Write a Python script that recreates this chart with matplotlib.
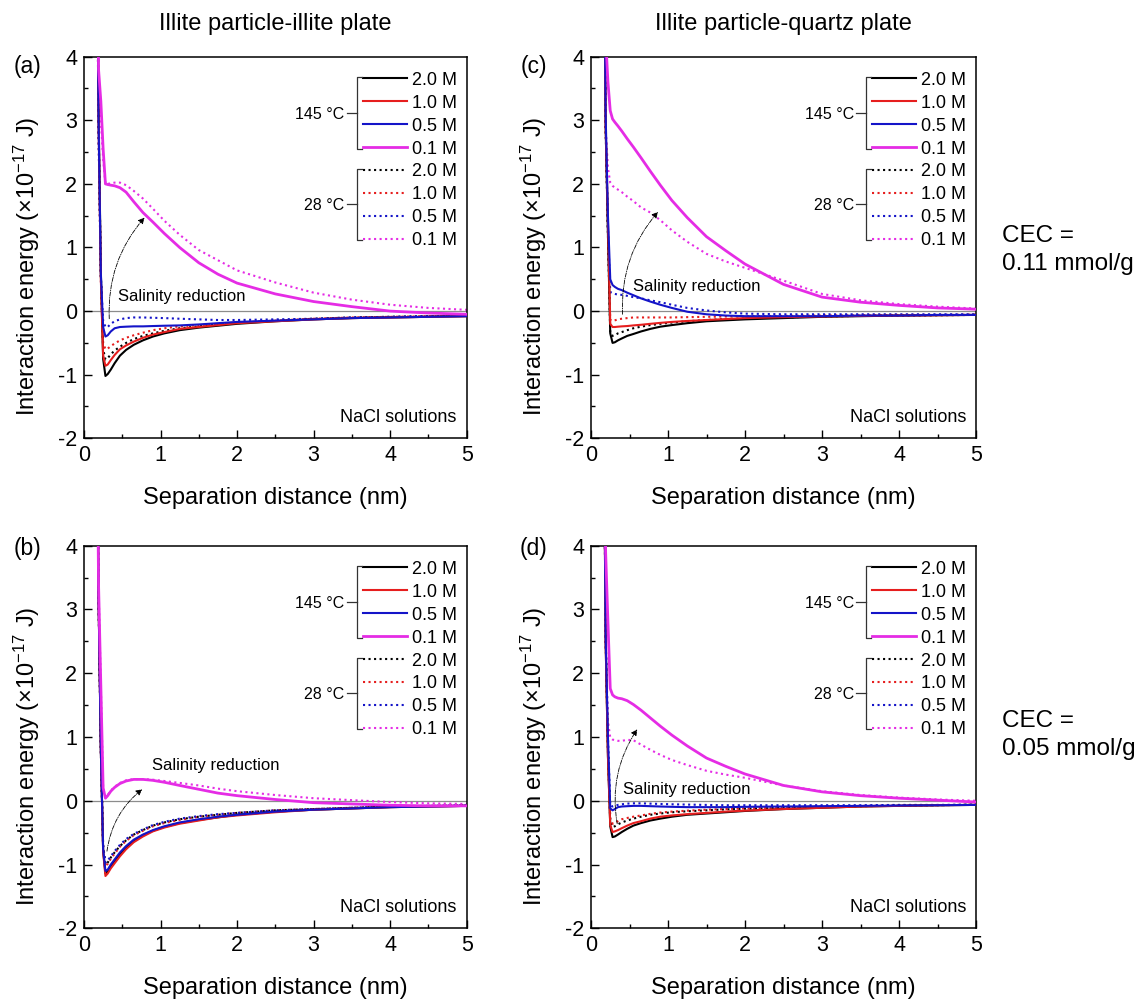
import matplotlib
matplotlib.use('Agg')
import matplotlib.pyplot as plt
from matplotlib.lines import Line2D
from matplotlib.ticker import MultipleLocator

plt.rcParams['font.family'] = ['Liberation Sans', 'DejaVu Sans']
plt.rcParams['mathtext.fontset'] = 'custom'
plt.rcParams['mathtext.rm'] = 'Liberation Sans'
plt.rcParams['mathtext.it'] = 'Liberation Sans:italic'
plt.rcParams['axes.unicode_minus'] = False

# separation distance (nm), shared by every curve
sep = [0.15, 0.19, 0.22, 0.25, 0.28, 0.31, 0.35, 0.4, 0.47, 0.55, 0.65, 0.77,
       0.9, 1.05, 1.25, 1.5, 1.75, 2.0, 2.5, 3.0, 3.5, 4.0, 4.5, 5.0]
conc = ['2.0 M', '1.0 M', '0.5 M', '0.1 M']

# (a) illite particle - illite plate, CEC 0.11
a_145 = [
    [9.0, 3.2, 0.6, -0.75, -1.02, -0.99, -0.92, -0.82, -0.70, -0.61, -0.53, -0.46, -0.40, -0.35, -0.30, -0.26, -0.23, -0.20, -0.16, -0.13, -0.11, -0.10, -0.09, -0.08],
    [9.0, 3.0, 0.5, -0.70, -0.86, -0.84, -0.77, -0.69, -0.60, -0.54, -0.48, -0.42, -0.37, -0.33, -0.28, -0.25, -0.22, -0.19, -0.16, -0.13, -0.11, -0.10, -0.09, -0.08],
    [9.0, 3.0, 0.6, -0.25, -0.40, -0.38, -0.32, -0.27, -0.25, -0.245, -0.24, -0.24, -0.235, -0.23, -0.225, -0.21, -0.19, -0.17, -0.15, -0.13, -0.11, -0.10, -0.09, -0.08],
    [9.0, 3.8, 3.3, 2.55, 2.0, 1.99, 1.98, 1.97, 1.94, 1.87, 1.72, 1.55, 1.40, 1.22, 1.0, 0.76, 0.58, 0.44, 0.27, 0.15, 0.07, 0.0, -0.03, -0.05],
]
a_28 = [
    [9.0, 3.0, 0.6, -0.60, -0.76, -0.74, -0.68, -0.62, -0.56, -0.50, -0.44, -0.39, -0.35, -0.31, -0.27, -0.24, -0.21, -0.19, -0.15, -0.12, -0.10, -0.09, -0.08, -0.07],
    [9.0, 2.8, 0.5, -0.50, -0.60, -0.59, -0.55, -0.51, -0.46, -0.42, -0.38, -0.34, -0.30, -0.27, -0.24, -0.22, -0.20, -0.18, -0.15, -0.12, -0.10, -0.09, -0.08, -0.07],
    [9.0, 2.8, 0.5, -0.15, -0.25, -0.25, -0.20, -0.16, -0.13, -0.11, -0.10, -0.10, -0.105, -0.11, -0.12, -0.13, -0.14, -0.14, -0.13, -0.12, -0.10, -0.09, -0.08, -0.07],
    [9.0, 3.6, 3.0, 2.4, 2.0, 2.0, 2.01, 2.02, 2.02, 1.98, 1.89, 1.77, 1.61, 1.42, 1.2, 0.96, 0.80, 0.64, 0.45, 0.29, 0.18, 0.10, 0.05, 0.02],
]

# (b) illite particle - illite plate, CEC 0.05
b_145 = [
    [9.0, 3.2, 0.8, -0.78, -1.14, -1.11, -1.03, -0.95, -0.84, -0.74, -0.63, -0.54, -0.47, -0.41, -0.35, -0.30, -0.26, -0.22, -0.17, -0.14, -0.12, -0.10, -0.09, -0.08],
    [9.0, 3.2, 0.8, -0.80, -1.18, -1.14, -1.06, -0.98, -0.87, -0.76, -0.65, -0.56, -0.48, -0.42, -0.36, -0.31, -0.26, -0.23, -0.18, -0.14, -0.12, -0.10, -0.09, -0.08],
    [9.0, 3.2, 0.8, -0.76, -1.10, -1.08, -1.00, -0.92, -0.81, -0.71, -0.61, -0.53, -0.46, -0.40, -0.34, -0.29, -0.25, -0.22, -0.17, -0.14, -0.12, -0.10, -0.09, -0.08],
    [9.0, 3.4, 1.8, 0.2, 0.04, 0.08, 0.15, 0.21, 0.27, 0.31, 0.335, 0.335, 0.32, 0.29, 0.24, 0.18, 0.12, 0.08, 0.02, -0.03, -0.05, -0.07, -0.08, -0.08],
]
b_28 = [
    [9.0, 3.2, 0.8, -0.72, -1.00, -0.97, -0.89, -0.81, -0.71, -0.62, -0.53, -0.46, -0.39, -0.34, -0.29, -0.25, -0.22, -0.19, -0.15, -0.13, -0.11, -0.09, -0.08, -0.07],
    [9.0, 3.2, 0.8, -0.74, -1.02, -0.99, -0.91, -0.83, -0.72, -0.63, -0.54, -0.47, -0.40, -0.35, -0.30, -0.25, -0.22, -0.19, -0.15, -0.13, -0.11, -0.09, -0.08, -0.07],
    [9.0, 3.2, 0.8, -0.70, -0.97, -0.94, -0.87, -0.79, -0.69, -0.60, -0.52, -0.45, -0.38, -0.33, -0.28, -0.24, -0.21, -0.19, -0.15, -0.13, -0.11, -0.09, -0.08, -0.07],
    [9.0, 3.4, 1.8, 0.2, 0.06, 0.09, 0.16, 0.22, 0.28, 0.32, 0.34, 0.34, 0.33, 0.31, 0.28, 0.24, 0.19, 0.15, 0.09, 0.04, 0.01, -0.02, -0.04, -0.05],
]

# (c) illite particle - quartz plate, CEC 0.11
c_145 = [
    [9.0, 2.9, 1.2, -0.35, -0.50, -0.49, -0.46, -0.43, -0.39, -0.36, -0.32, -0.28, -0.245, -0.22, -0.19, -0.16, -0.145, -0.13, -0.11, -0.09, -0.08, -0.07, -0.065, -0.06],
    [9.0, 2.95, 1.4, -0.20, -0.25, -0.25, -0.245, -0.24, -0.235, -0.225, -0.215, -0.20, -0.185, -0.17, -0.155, -0.14, -0.125, -0.11, -0.095, -0.085, -0.075, -0.07, -0.065, -0.06],
    [9.0, 3.1, 1.5, 0.50, 0.41, 0.38, 0.35, 0.33, 0.29, 0.25, 0.20, 0.15, 0.10, 0.05, -0.01, -0.05, -0.07, -0.08, -0.08, -0.08, -0.07, -0.07, -0.06, -0.06],
    [9.0, 4.3, 3.6, 3.15, 3.02, 2.97, 2.91, 2.83, 2.71, 2.58, 2.41, 2.2, 1.98, 1.74, 1.47, 1.17, 0.95, 0.74, 0.42, 0.22, 0.14, 0.09, 0.05, 0.03],
]
c_28 = [
    [9.0, 2.9, 1.2, -0.35, -0.39, -0.38, -0.35, -0.33, -0.30, -0.27, -0.245, -0.22, -0.20, -0.18, -0.16, -0.14, -0.125, -0.115, -0.10, -0.085, -0.075, -0.07, -0.065, -0.06],
    [9.0, 2.9, 1.3, -0.14, -0.155, -0.145, -0.13, -0.12, -0.11, -0.10, -0.10, -0.10, -0.10, -0.10, -0.095, -0.09, -0.085, -0.08, -0.075, -0.07, -0.065, -0.06, -0.06, -0.055],
    [9.0, 3.0, 1.3, 0.30, 0.28, 0.27, 0.26, 0.255, 0.24, 0.22, 0.20, 0.17, 0.14, 0.10, 0.05, 0.01, -0.02, -0.04, -0.05, -0.05, -0.05, -0.05, -0.05, -0.05],
    [9.0, 2.9, 2.25, 2.02, 1.97, 1.94, 1.91, 1.87, 1.80, 1.73, 1.63, 1.55, 1.43, 1.27, 1.09, 0.90, 0.78, 0.68, 0.48, 0.27, 0.17, 0.11, 0.07, 0.04],
]

# (d) illite particle - quartz plate, CEC 0.05
d_145 = [
    [9.0, 2.5, 0.7, -0.40, -0.57, -0.56, -0.53, -0.49, -0.44, -0.39, -0.35, -0.31, -0.28, -0.25, -0.22, -0.20, -0.18, -0.16, -0.13, -0.11, -0.09, -0.08, -0.07, -0.065],
    [9.0, 2.5, 0.7, -0.38, -0.49, -0.48, -0.46, -0.43, -0.39, -0.35, -0.32, -0.28, -0.25, -0.23, -0.21, -0.19, -0.17, -0.155, -0.13, -0.11, -0.09, -0.08, -0.07, -0.065],
    [9.0, 2.6, 1.0, -0.12, -0.15, -0.13, -0.10, -0.09, -0.085, -0.08, -0.08, -0.085, -0.09, -0.095, -0.10, -0.10, -0.10, -0.095, -0.09, -0.085, -0.08, -0.075, -0.07, -0.065],
    [9.0, 3.9, 2.8, 1.76, 1.66, 1.63, 1.61, 1.60, 1.57, 1.51, 1.42, 1.30, 1.17, 1.03, 0.86, 0.67, 0.54, 0.42, 0.24, 0.14, 0.08, 0.04, 0.01, -0.02],
]
d_28 = [
    [9.0, 2.6, 0.8, -0.32, -0.41, -0.40, -0.37, -0.34, -0.31, -0.28, -0.25, -0.22, -0.20, -0.18, -0.165, -0.15, -0.135, -0.125, -0.11, -0.095, -0.085, -0.075, -0.07, -0.06],
    [9.0, 2.6, 0.8, -0.28, -0.36, -0.35, -0.32, -0.29, -0.27, -0.25, -0.23, -0.205, -0.185, -0.17, -0.155, -0.14, -0.13, -0.12, -0.105, -0.09, -0.08, -0.075, -0.07, -0.06],
    [9.0, 2.6, 1.0, -0.07, -0.09, -0.08, -0.065, -0.055, -0.045, -0.04, -0.04, -0.045, -0.05, -0.055, -0.06, -0.065, -0.07, -0.07, -0.07, -0.07, -0.07, -0.065, -0.065, -0.06],
    [9.0, 2.5, 1.25, 0.99, 0.96, 0.95, 0.94, 0.94, 0.955, 0.95, 0.88, 0.80, 0.72, 0.64, 0.56, 0.47, 0.41, 0.36, 0.24, 0.15, 0.09, 0.05, 0.02, 0.0],
]

colors = ['black', '#e61e1e', '#1414c8', '#e52ce5']
widths = [1.5, 1.5, 1.5, 2.0]

W, H = 1139, 999
fig = plt.figure(figsize=(W / 100, H / 100), dpi=100)


def fx(px):
    return px / W


def fy(py):
    return 1 - py / H


# pixel boxes: left, top, right, bottom
boxes = {'a': (84, 56.7, 466.7, 438.3), 'c': (591, 56.7, 976, 438.3),
         'b': (84, 545.7, 466.7, 928.3), 'd': (591, 545.7, 976, 928.3)}
hot = {'a': a_145, 'b': b_145, 'c': c_145, 'd': d_145}
cold = {'a': a_28, 'b': b_28, 'c': c_28, 'd': d_28}
# arrow start, arrow end, text position (data units)
notes = {'a': ((0.33, -0.12), (0.79, 1.47), (0.44, 0.23)),
         'b': ((0.30, -0.79), (0.76, 0.18), (0.89, 0.56)),
         'c': ((0.41, -0.05), (0.87, 1.56), (0.54, 0.39)),
         'd': ((0.34, -0.36), (0.60, 1.12), (0.41, 0.17))}
letter_pos = {'a': (27.5, 66), 'b': (27.5, 549), 'c': (533.5, 66), 'd': (533.5, 549)}

for key, (L, T, R, B) in boxes.items():
    ax = fig.add_axes([fx(L), fy(B), fx(R) - fx(L), (B - T) / H])
    ax.axhline(0, color='#8c8c8c', lw=0.9, zorder=1)
    for i in range(4):
        ax.plot(sep, cold[key][i], color=colors[i], lw=1.5, ls=':', zorder=2)
    for i in range(4):
        ax.plot(sep, hot[key][i], color=colors[i], lw=widths[i], ls='-', zorder=3)
    ax.set_xlim(0, 5)
    ax.set_ylim(-2, 4)
    ax.xaxis.set_major_locator(MultipleLocator(1))
    ax.xaxis.set_minor_locator(MultipleLocator(0.5))
    ax.yaxis.set_major_locator(MultipleLocator(1))
    ax.yaxis.set_minor_locator(MultipleLocator(0.5))
    ax.tick_params(which='both', direction='in', top=False, right=False,
                   labelsize=15.5, width=1)
    ax.tick_params(which='major', length=5.5, pad=5)
    ax.tick_params(which='minor', length=3)
    for s in ax.spines.values():
        s.set_linewidth(1.1)
    ax.set_xlabel('Separation distance (nm)', fontsize=17)
    ax.xaxis.set_label_coords(0.5, -48.7 / (B - T))
    ax.xaxis.label.set_va('top')
    ax.set_ylabel('Interaction energy (×10$^{-17}$ J)', fontsize=17)
    ax.yaxis.set_label_coords(-(L - (L - 42)) / (R - L), 0.45)

    st, en, tp = notes[key]
    ax.annotate('', xy=en, xytext=st,
                arrowprops=dict(arrowstyle='-|>', connectionstyle='arc3,rad=-0.2',
                                lw=0.6, color='black', ls=(0, (5, 1.5, 1, 1.5)),
                                mutation_scale=9, shrinkA=0, shrinkB=0))
    ax.text(tp[0], tp[1], 'Salinity reduction', fontsize=12, ha='left', va='center')
    ax.text(1 - 10 / (R - L), 16.6 / (B - T), 'NaCl solutions', transform=ax.transAxes,
            fontsize=13, ha='right', va='baseline')

    # custom bracketed key
    for i in range(8):
        y = T + 21.7 + 22.9 * i
        ls = '-' if i < 4 else ':'
        fig.add_artist(Line2D([fx(R - 103.7), fx(R - 59.7)], [fy(y), fy(y)],
                              color=colors[i % 4], lw=widths[i % 4] if i < 4 else 1.5, ls=ls))
        fig.text(fx(R - 54.7), fy(y), conc[i % 4], ha='left', va='center_baseline', fontsize=13)
    for g, lab in enumerate(['145 °C', '28 °C']):
        y0 = T + 21.7 + 22.9 * 4 * g - 1.5
        y1 = y0 + 22.9 * 3 + 3
        xb = R - 110
        fig.add_artist(Line2D([fx(xb + 5), fx(xb), fx(xb), fx(xb + 5)],
                              [fy(y0), fy(y0), fy(y1), fy(y1)], color='#333333', lw=0.9))
        ym = (y0 + y1) / 2
        fig.add_artist(Line2D([fx(xb - 10), fx(xb)], [fy(ym), fy(ym)], color='#333333', lw=0.9))
        fig.text(fx(xb - 12), fy(ym), lab, ha='right', va='center_baseline', fontsize=11.5)

    lx, ly = letter_pos[key]
    fig.text(fx(lx), fy(ly), '(' + key + ')', ha='center', va='center', fontsize=16.5)

fig.text(fx(275.3), fy(30), 'Illite particle-illite plate', ha='center', va='baseline', fontsize=17)
fig.text(fx(783.5), fy(30), 'Illite particle-quartz plate', ha='center', va='baseline', fontsize=17)

fig.text(fx(1002), fy(241.7), 'CEC =', ha='left', va='baseline', fontsize=17.5)
fig.text(fx(1002), fy(270), '0.11 mmol/g', ha='left', va='baseline', fontsize=17.5)
fig.text(fx(1002), fy(727), 'CEC =', ha='left', va='baseline', fontsize=17.5)
fig.text(fx(1002), fy(755), '0.05 mmol/g', ha='left', va='baseline', fontsize=17.5)

fig.savefig('out.png', dpi=100)
